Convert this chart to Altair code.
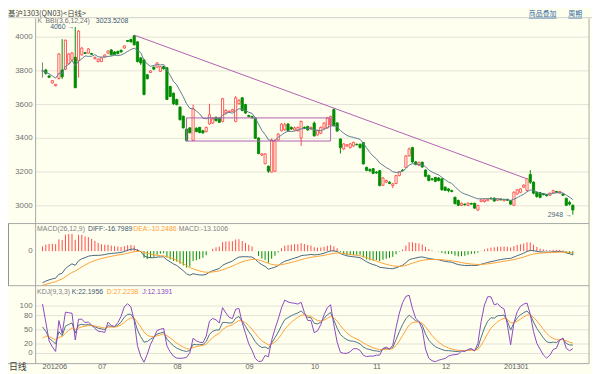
import altair as alt
import pandas as pd

# ---------------- data ----------------
opens = [3800,3805,3770,3728,3712,3755,3805,3810,3842,3865,
         3880,3860,3895,3908,3905,3903,3872,3855,3855,3883,
         3905,3924,3912,3915,3922,3935,3980,3986,4008,3972,
         3877,3865,3777,3790,3822,3822,3797,3825,3818,3707,
         3667,3630,3585,3531,3455,3462,3388,3460,3465,3445,
         3440,3485,3490,3525,3520,3500,3550,3555,3560,3500,
         3605,3640,3600,3535,3530,3520,3402,3300,3250,3235,
         3200,3205,3390,3445,3450,3485,3465,3450,3445,3402,
         3465,3470,3455,3490,3420,3430,3460,3462,3480,3570,
         3491,3396,3337,3355,3345,3355,3365,3365,3375,3228,
         3215,3220,3200,3208,3122,3140,3140,3120,3132,3179,
         3212,3228,3296,3345,3260,3240,3258,3212,3180,3160,
         3168,3165,3160,3110,3100,3090,3050,3032,3003,3010,
         3003,3014,3015,2975,3025,3025,3030,3045,3045,3032,
         3040,3030,3038,3030,3003,3070,3080,3110,3091,3185,
         3140,3080,3078,3072,3066,3062,3078,3085,3075,3070,
         3044,3020,3003]
highs = [3850,3812,3773,3745,3722,3905,3988,3985,3905,3910,
         4060,4042,3940,3912,3935,3906,3884,3872,3880,3898,
         3920,3928,3916,3920,3926,3950,3983,3990,4012,3975,
         3880,3870,3780,3802,3826,3850,3828,3830,3822,3712,
         3672,3635,3590,3535,3460,3466,3600,3465,3468,3450,
         3470,3605,3520,3528,3525,3640,3572,3566,3575,3650,
         3632,3645,3605,3540,3534,3525,3405,3312,3312,3238,
         3400,3395,3430,3490,3492,3490,3470,3470,3470,3505,
         3470,3475,3470,3500,3450,3470,3495,3525,3535,3578,
         3495,3400,3370,3365,3372,3380,3368,3368,3378,3232,
         3222,3224,3205,3212,3170,3155,3145,3135,3182,3205,
         3218,3300,3345,3350,3265,3262,3262,3215,3185,3163,
         3172,3170,3162,3115,3104,3095,3055,3036,3020,3014,
         3020,3018,3018,3005,3040,3038,3040,3050,3050,3045,
         3044,3040,3042,3034,3085,3100,3105,3128,3165,3212,
         3145,3085,3082,3076,3070,3078,3095,3088,3088,3072,
         3048,3030,3008]
lows = [3760,3778,3758,3725,3708,3748,3752,3805,3838,3860,
        3698,3760,3890,3900,3902,3895,3868,3850,3852,3880,
        3900,3892,3894,3898,3908,3932,3972,3968,3950,3850,
        3835,3655,3750,3788,3806,3818,3794,3808,3628,3645,
        3598,3596,3505,3458,3382,3430,3384,3436,3430,3428,
        3435,3480,3485,3500,3490,3495,3540,3550,3555,3495,
        3600,3560,3545,3525,3518,3396,3305,3296,3245,3195,
        3197,3200,3385,3440,3445,3440,3450,3445,3440,3355,
        3455,3445,3450,3410,3415,3425,3455,3458,3476,3470,
        3440,3310,3330,3350,3340,3350,3358,3340,3245,3205,
        3200,3188,3190,3115,3118,3135,3128,3105,3128,3175,
        3205,3224,3292,3255,3240,3235,3225,3170,3145,3150,
        3140,3145,3090,3088,3080,3080,3008,2998,2998,3002,
        2998,3008,2983,2970,3022,3020,3028,3038,3025,3030,
        3032,3026,3030,3005,3000,3065,3075,3105,3085,3130,
        3068,3048,3045,3062,3055,3058,3075,3078,3072,3058,
        3000,3002,2948]
closes = [3800,3785,3762,3742,3720,3900,3765,3982,3900,3906,
          3700,4035,3935,3903,3930,3898,3880,3870,3877,3894,
          3918,3895,3897,3902,3912,3948,3975,3972,3955,3855,
          3847,3660,3753,3800,3810,3847,3825,3812,3630,3648,
          3605,3600,3511,3462,3386,3433,3575,3440,3435,3432,
          3465,3540,3515,3505,3495,3635,3565,3560,3570,3640,
          3625,3565,3550,3530,3522,3400,3310,3308,3308,3205,
          3390,3385,3425,3484,3480,3445,3455,3462,3465,3500,
          3460,3450,3465,3415,3445,3465,3490,3520,3530,3475,
          3443,3345,3367,3362,3367,3376,3362,3345,3248,3210,
          3208,3192,3195,3120,3165,3150,3132,3130,3179,3200,
          3208,3296,3337,3260,3245,3258,3230,3175,3150,3155,
          3145,3150,3095,3091,3090,3085,3013,3003,3015,3006,
          3015,3010,2986,3003,3035,3035,3038,3042,3028,3042,
          3035,3036,3033,3010,3081,3095,3100,3122,3160,3140,
          3075,3055,3050,3066,3060,3075,3090,3080,3085,3062,
          3003,3010,2975]

month_pos = [0, 17, 40, 62, 82, 101, 122, 141]
month_labels = ["201206", "07", "08", "09", "10", "11", "12", "201301"]
price_ticks = [3000, 3200, 3400, 3600, 3800, 4000]
kdj_ticks = [0, 20, 50, 80, 100]

trend_i = [28, 148]
trend_p = [4012, 3160]
box_i = [44, 88]
box_p = [3384, 3521]

# indicator state just before the first visible bar
EMA12_START, EMA26_START, DEA_START = 3830.0, 3990.0, -165.0
K_START, D_START = 62.0, 20.0

# ---------------- indicators ----------------
n = len(closes)
c = pd.Series(closes, dtype=float)
hs = pd.Series(highs, dtype=float)
ls = pd.Series(lows, dtype=float)
ma = lambda k: c.rolling(k, min_periods=1).mean()
bbi = (ma(3) + ma(6) + ma(12) + ma(24)) / 4

e12, e26, dea = EMA12_START, EMA26_START, DEA_START
diffs, deas, macds = [], [], []
for x in closes:
    e12 = e12 * 11 / 13 + x * 2 / 13
    e26 = e26 * 25 / 27 + x * 2 / 27
    d = e12 - e26
    dea = dea * 0.8 + d * 0.2
    diffs.append(d); deas.append(dea); macds.append(2 * (d - dea))

hh = hs.rolling(9, min_periods=1).max()
ll = ls.rolling(9, min_periods=1).min()
rsv = ((c - ll) / (hh - ll) * 100).fillna(50)
K, D = K_START, D_START
ks, ds, js = [], [], []
for r in rsv:
    K = K * 2 / 3 + r / 3
    D = D * 2 / 3 + K / 3
    ks.append(K); ds.append(D); js.append(3 * K - 2 * D)

def direction(o, cl):
    return "up" if cl > o else ("down" if cl < o else "flat")

df = pd.DataFrame({
    "i": list(range(n)), "open": opens, "high": highs, "low": lows, "close": closes,
    "dir": [direction(o, cl) for o, cl in zip(opens, closes)],
    "bbi": bbi, "diff": diffs, "dea": deas, "macd": macds,
    "msign": ["pos" if m >= 0 else "neg" for m in macds],
    "zero": [0.0] * n, "k": ks, "d": ds, "j": js,
})

# ---------------- scales (pixel layout, chart coords) ----------------
STEP = 3.38
XL = 30
X = alt.Scale(domain=[0, n - 1], range=[XL, XL + STEP * (n - 1)], nice=False, zero=False)
PY = alt.Scale(domain=[3000, 4000], range=[198, 27], nice=False, zero=False)
KY = alt.Scale(domain=[0, 100], range=[347.7, 299.7], nice=False, zero=False)
mlo = min(min(diffs), min(deas), min(macds))
MY = alt.Scale(domain=[mlo, 0], range=[278.5, 244], nice=False, zero=False)

RED, GREEN, GRAY = "#FF4A4A", "#008C00", "#808080"
BG = "#FFFFF0"
FONT = "Liberation Sans, Arial"
CJK = "Noto Sans CJK SC"
SLATE = "#48657C"
ORANGE = "#FFA033"
PURPLE = "#8A48C0"
MAG = "#B060B0"
GRID = "#E2E2D6"
BORDER = "#A8A8A8"
LABEL = "#707070"
LSZ = 7

ONE = pd.DataFrame({"k": [0]})

def xi():
    return alt.X("i:Q", scale=X, axis=None)

def hline(y, x1, x2, color, w=1.0):
    return alt.Chart(ONE).mark_rule(color=color, strokeWidth=w).encode(
        x=alt.value(x1), x2=alt.value(x2), y=alt.value(y))

def vline(x, y1, y2, color, w=1.0):
    return alt.Chart(ONE).mark_rule(color=color, strokeWidth=w).encode(
        x=alt.value(x), y=alt.value(y1), y2=alt.value(y2))

def label(txt, x, y, color, size=LSZ, font=FONT, align="left"):
    return alt.Chart(ONE).mark_text(text=txt, align=align, baseline="middle", font=font,
                                    fontSize=size, color=color).encode(
        x=alt.value(x), y=alt.value(y))

layers = []

# gridlines
pg = pd.DataFrame({"p": price_ticks, "lab": [str(v) for v in price_ticks]})
kg = pd.DataFrame({"p": kdj_ticks, "lab": [str(v) for v in kdj_ticks]})
layers.append(alt.Chart(pg).mark_rule(color=GRID, strokeWidth=1).encode(
    x=alt.value(28), x2=alt.value(589), y=alt.Y("p:Q", scale=PY, axis=None)))
layers.append(alt.Chart(kg).mark_rule(color=GRID, strokeWidth=1).encode(
    x=alt.value(28), x2=alt.value(589), y=alt.Y("p:Q", scale=KY, axis=None)))

# frame
layers += [
    hline(7.3, 0, 592, "#CFCFCF", 1),
    vline(28, 8, 358, BORDER),
    vline(589, 8, 358, BORDER),
    hline(216, 0, 589, BORDER),
    hline(279, 0, 589, BORDER),
    hline(358, 0, 589, BORDER),
    vline(0.5, 216, 279, "#909090"),
]

# y labels
layers.append(alt.Chart(pg).mark_text(align="right", baseline="middle", font=FONT,
                                      fontSize=8, color=LABEL).encode(
    x=alt.value(25), y=alt.Y("p:Q", scale=PY, axis=None), text="lab:N"))
layers.append(alt.Chart(kg).mark_text(align="right", baseline="middle", font=FONT,
                                      fontSize=8, color=LABEL).encode(
    x=alt.value(25), y=alt.Y("p:Q", scale=KY, axis=None), text="lab:N"))
layers.append(alt.Chart(pd.DataFrame({"p": [0], "lab": ["0"]})).mark_text(
    align="right", baseline="middle", font=FONT, fontSize=8, color=LABEL).encode(
    x=alt.value(25), y=alt.Y("p:Q", scale=MY, axis=None), text="lab:N"))

# candles
dirs = ["up", "down", "flat"]
stroke_sc = alt.Scale(domain=dirs, range=[RED, GREEN, GRAY])
fill_sc = alt.Scale(domain=dirs, range=[BG, GREEN, GRAY])
base = alt.Chart(df)
layers.append(base.mark_rule(strokeWidth=1).encode(
    x=xi(), y=alt.Y("low:Q", scale=PY, axis=None), y2="high:Q",
    color=alt.Color("dir:N", scale=stroke_sc, legend=None)))
layers.append(base.mark_bar(size=2.2, strokeWidth=0.9).encode(
    x=xi(), y=alt.Y("open:Q", scale=PY, axis=None), y2="close:Q",
    fill=alt.Fill("dir:N", scale=fill_sc, legend=None),
    stroke=alt.Stroke("dir:N", scale=stroke_sc, legend=None)))

# BBI
layers.append(base.mark_line(color="#5E7C93", strokeWidth=1).encode(
    x=xi(), y=alt.Y("bbi:Q", scale=PY, axis=None)))

# trend line and box
layers.append(alt.Chart(pd.DataFrame({"i": trend_i, "p": trend_p})).mark_line(
    color=MAG, strokeWidth=1).encode(x=xi(), y=alt.Y("p:Q", scale=PY, axis=None)))
layers.append(alt.Chart(pd.DataFrame({"i": [box_i[0]], "i2": [box_i[1]],
                                      "p": [box_p[0]], "p2": [box_p[1]]})).mark_rect(
    fill=None, stroke=MAG, strokeWidth=1).encode(
    x=xi(), x2="i2:Q", y=alt.Y("p:Q", scale=PY, axis=None), y2="p2:Q"))

# extreme annotations
hi_i = max(range(n), key=lambda k: highs[k])
lo_i = min(range(n), key=lambda k: lows[k])
ann = pd.DataFrame({"i": [hi_i, lo_i], "p": [highs[hi_i], lows[lo_i]],
                    "t": [f"{highs[hi_i]} →", f"{lows[lo_i]} →"]})
layers.append(alt.Chart(ann).mark_text(align="right", baseline="middle", font=FONT,
                                       fontSize=LSZ, color=SLATE, dx=-1).encode(
    x=xi(), y=alt.Y("p:Q", scale=PY, axis=None), text="t:N"))

# MACD
layers.append(base.mark_rule(strokeWidth=1).encode(
    x=xi(), y=alt.Y("zero:Q", scale=MY, axis=None), y2="macd:Q",
    color=alt.Color("msign:N", scale=alt.Scale(domain=["pos", "neg"],
                                               range=["#FF5A5A", "#3DA03D"]), legend=None)))
layers.append(base.mark_line(color=SLATE, strokeWidth=1).encode(
    x=xi(), y=alt.Y("diff:Q", scale=MY, axis=None)))
layers.append(base.mark_line(color=ORANGE, strokeWidth=1).encode(
    x=xi(), y=alt.Y("dea:Q", scale=MY, axis=None)))

# KDJ
layers.append(base.mark_line(color="#4C7282", strokeWidth=1).encode(
    x=xi(), y=alt.Y("k:Q", scale=KY, axis=None)))
layers.append(base.mark_line(color=ORANGE, strokeWidth=1).encode(
    x=xi(), y=alt.Y("d:Q", scale=KY, axis=None)))
layers.append(base.mark_line(color=PURPLE, strokeWidth=1).encode(
    x=xi(), y=alt.Y("j:Q", scale=KY, axis=None)))

# month labels
mdf = pd.DataFrame({"i": month_pos, "lab": month_labels})
layers.append(alt.Chart(mdf).mark_text(align="left", baseline="middle", font=FONT,
                                       fontSize=7.5, color="#606060").encode(
    x=xi(), y=alt.value(361.5), text="lab:N"))

# texts
layers += [
    label("基沪1303(QN03)<日线>", 0, 3.5, "#404040", 7.5, CJK),
    label("商品叠加", 528, 3.5, "#2F6A9A", 7, CJK),
    label("周期", 568, 3.5, "#2F6A9A", 7, CJK),
    hline(7.8, 528, 556, "#2F6A9A", 0.7),
    hline(7.8, 568, 582, "#2F6A9A", 0.7),
    label("K", 30, 10.8, GRAY),
    label("BBI(3,6,12,24)", 38, 10.8, "#707070"),
    label("3023.5208", 89, 10.8, "#3E5770"),
    label("MACD(26,12,9)", 29.5, 222, GRAY),
    label("DIFF:-16.7989", 81, 222, "#3E5770"),
    label("DEA:-10.2486", 127, 222, ORANGE),
    label("MACD:-13.1006", 173, 222, GRAY),
    label("KDJ(9,3,3)", 29.5, 285.5, GRAY),
    label("K:22.1956", 64.5, 285.5, "#3E5770"),
    label("D:27.2238", 100, 285.5, ORANGE),
    label("J:12.1391", 136, 285.5, PURPLE),
    label("日线", 1, 361.5, "#404040", 9, CJK),
]

chart = alt.layer(*layers).resolve_scale(y="independent").properties(
    width=592, height=366, padding=0,
    autosize=alt.AutoSizeParams(type="none"),
).configure(background=BG).configure_view(stroke=None)

chart.save("out.html", embed_options={"renderer": "svg", "actions": False})
